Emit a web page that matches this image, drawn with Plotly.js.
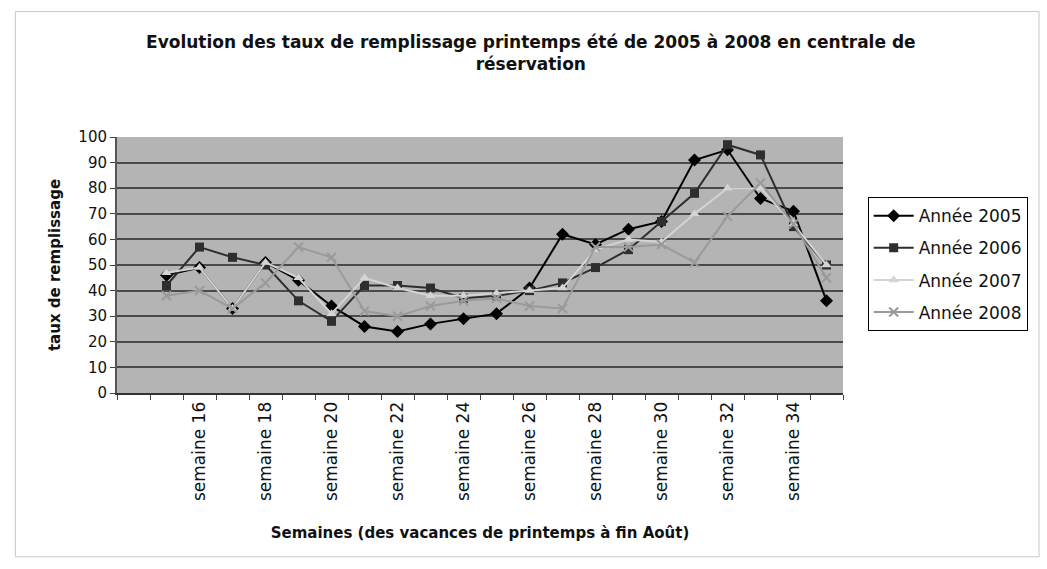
<!DOCTYPE html>
<html>
<head>
<meta charset="utf-8">
<script src="https://cdn.plot.ly/plotly-3.0.1.min.js"></script>
<style>html,body{margin:0;padding:0;background:#fff;}#chart{width:1047px;height:569px;}</style>
</head>
<body>
<div id="chart"></div>
<script>
const weeks = [15,16,17,18,19,20,21,22,23,24,25,26,27,28,29,30,31,32,33,34,35];
const tickWeeks = [16,18,20,22,24,26,28,30,32,34];
const tickLabels = ["semaine 16","semaine 18","semaine 20","semaine 22","semaine 24","semaine 26","semaine 28","semaine 30","semaine 32","semaine 34"];
const annee2005 = [46,49,33,51,44,34,26,24,27,29,31,41,62,58,64,67,91,95,76,71,36];
const annee2006 = [42,57,53,50,36,28,42,42,41,37,38,40,43,49,56,67,78,97,93,65,50];
const annee2007 = [47,49,33,51,45,31,45,41,38,38,39,40,41,56,60,59,70,80,80,66,50];
const annee2008 = [38,40,33,43,57,53,32,30,34,36,37,34,33,57,57,58,51,69,82,66,45];
const seriesNames = ["Année 2005","Année 2006","Année 2007","Année 2008"];

const traces = [
  {x: weeks, y: annee2005, name: seriesNames[0], legendgroup: "a", mode: "lines+markers",
   line: {color: "#000000", width: 2}, marker: {symbol: "diamond", size: 10, color: "#000000"}},
  {x: weeks, y: annee2006, name: seriesNames[1], legendgroup: "b", mode: "lines+markers",
   line: {color: "#2e2e2e", width: 2}, marker: {symbol: "square", size: 9, color: "#2e2e2e"}},
  {x: weeks, y: annee2007, name: seriesNames[2], legendgroup: "c", mode: "lines+markers",
   line: {color: "#d4d4d4", width: 2}, marker: {symbol: "triangle-up", size: 9, color: "#d4d4d4"}},
  {x: weeks, y: annee2008, name: seriesNames[3], legendgroup: "d", mode: "lines+markers",
   line: {color: "#9a9a9a", width: 2}, marker: {symbol: "x-thin-open", size: 9, color: "#9a9a9a", line: {color: "#9a9a9a", width: 2}}}
];

const layout = {
  width: 1047, height: 569,
  margin: {l: 117, r: 204, t: 137, b: 176},
  paper_bgcolor: "#ffffff",
  plot_bgcolor: "#b4b4b4",
  font: {family: "DejaVu Sans, sans-serif", color: "#111"},
  title: {text: "<b>Evolution des taux de remplissage printemps été de 2005 à 2008 en centrale de<br>réservation</b>",
          font: {size: 17, color: "#111"}, x: 0.507, xanchor: "center", y: 0.915, yanchor: "top"},
  showlegend: true,
  legend: {x: 1.034, xanchor: "left", y: 0.765, yanchor: "top", bgcolor: "#ffffff",
           bordercolor: "#000000", borderwidth: 1, font: {size: 17, color: "#111"},
           traceorder: "grouped", tracegroupgap: 7, itemwidth: 40},
  xaxis: {range: [13.5, 35.5], tickmode: "array", tickvals: tickWeeks, ticktext: tickLabels,
          tickangle: -90, tickfont: {size: 17, color: "#111"}, ticks: "", showgrid: false, zeroline: false,
          showline: true, linecolor: "#333", linewidth: 2,
          minor: {tick0: 13.5, dtick: 1, ticks: "outside", ticklen: 5, tickcolor: "#444", showgrid: false},
          title: {text: "<b>Semaines (des vacances de printemps à fin Août)</b>", font: {size: 15, color: "#111"}, standoff: 27}},
  yaxis: {range: [0, 100], dtick: 10, tickfont: {size: 15, color: "#111"}, ticks: "outside", ticklen: 5,
          tickcolor: "#444", showgrid: true, gridcolor: "#4a4a4a", gridwidth: 2, zeroline: false,
          showline: true, linecolor: "#555", linewidth: 2,
          title: {text: "<b>taux de remplissage</b>", font: {size: 15, color: "#111"}, standoff: 14}},
  shapes: [
    {type: "rect", xref: "paper", yref: "paper", x0: -0.14, x1: 1.27, y0: -0.64, y1: 1.49,
     line: {color: "#c8c8c8", width: 1}, fillcolor: "rgba(0,0,0,0)"}
  ]
};

Plotly.newPlot("chart", traces, layout, {displayModeBar: false, staticPlot: true});
</script>
</body>
</html>
